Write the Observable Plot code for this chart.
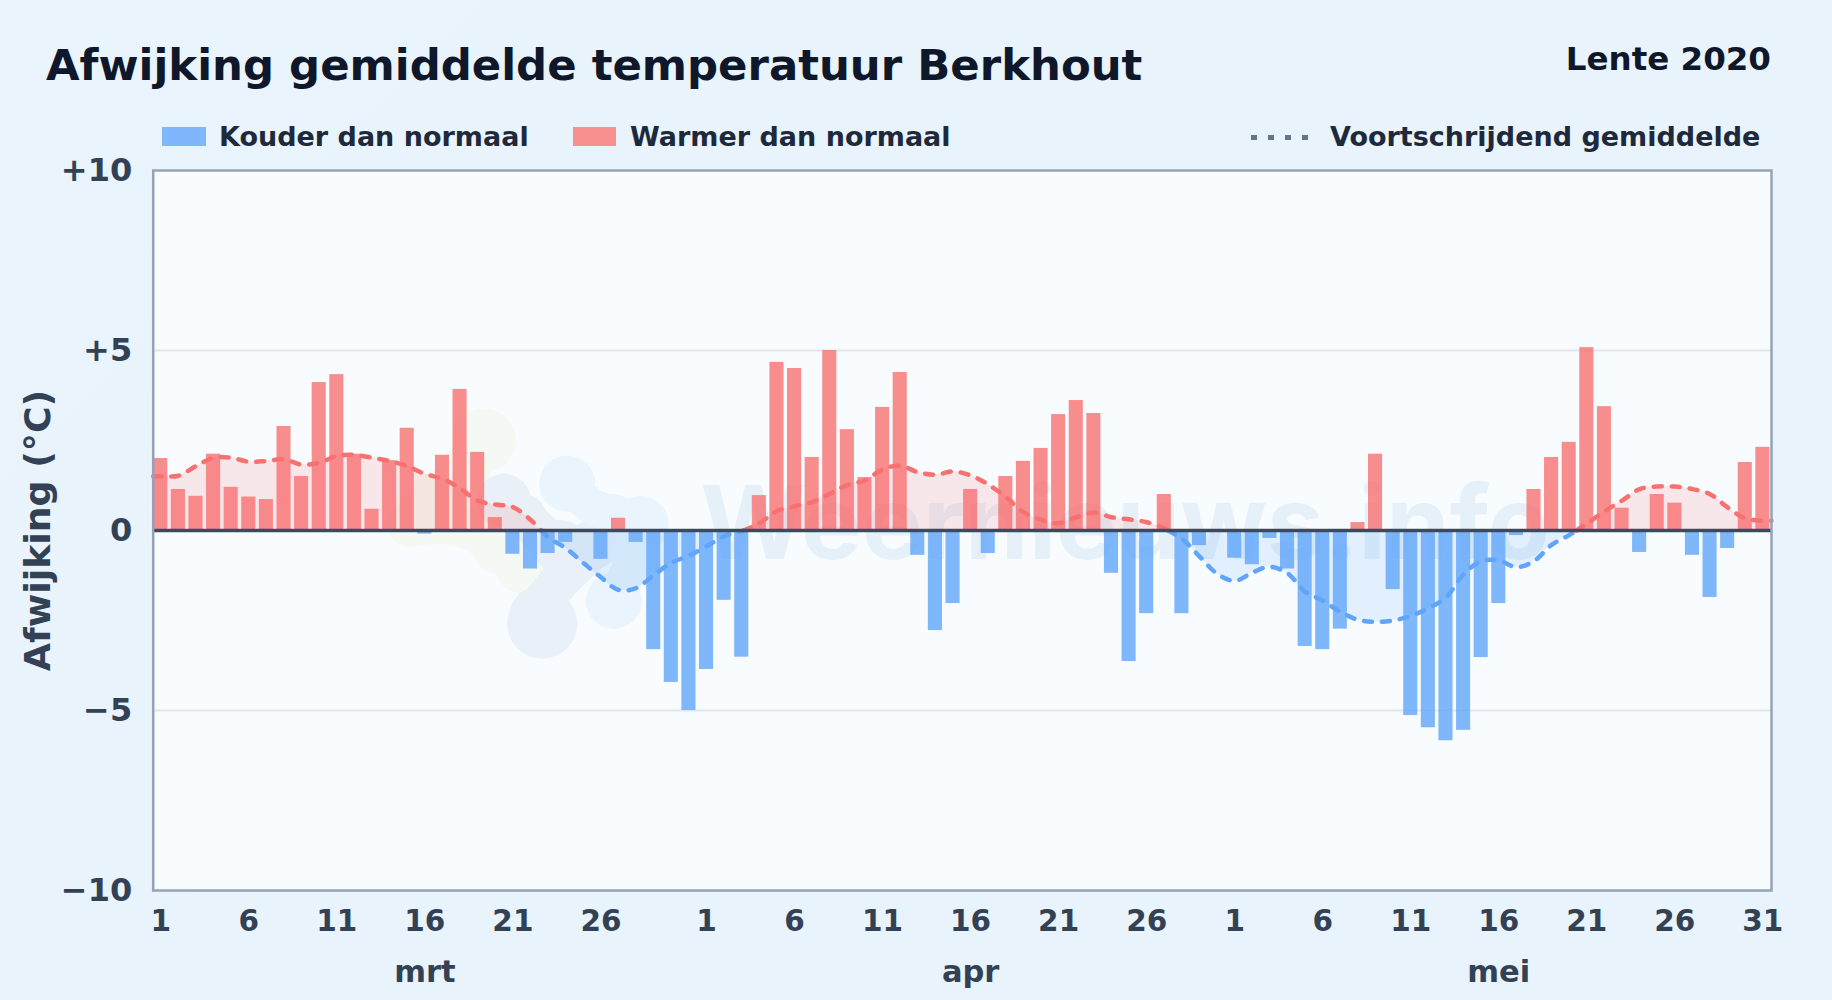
<!DOCTYPE html>
<html lang="nl">
<head>
<meta charset="utf-8">
<script src="https://cdn.jsdelivr.net/npm/d3@7"></script>
<script src="https://cdn.jsdelivr.net/npm/@observablehq/plot@0.6"></script>
<style>
html,body{margin:0;padding:0;width:1832px;height:1000px;overflow:hidden;background:#e9f3fc;font-family:"DejaVu Sans",sans-serif;font-weight:700}
#page{position:relative;width:1832px;height:1000px;background:linear-gradient(135deg,#eaf4fc 0%,#e8f3fc 40%,#e9f3fb 100%)}
#title{position:absolute;left:46px;top:39px;font-size:43.4px;line-height:52px;color:#0f172a;white-space:nowrap}
#season{position:absolute;right:61px;top:39px;font-size:32.5px;line-height:40px;color:#0f172a;white-space:nowrap}
.lg{position:absolute;top:118px;font-size:27px;line-height:38px;color:#1e293b;white-space:nowrap}
.sw{position:absolute;top:127px;height:19px}
#dots{position:absolute;left:1251px;top:135px;width:58px;height:5px;background:repeating-linear-gradient(90deg,#64748b 0 6px,transparent 6px 17px)}
#chart{position:absolute;left:0;top:150px}
#chart svg text{font-weight:700}
</style>
</head>
<body>
<div id="page">
  <div id="title">Afwijking gemiddelde temperatuur Berkhout</div>
  <div id="season">Lente 2020</div>
  <div class="sw" style="left:162px;width:44px;background:#80b6fb"></div>
  <div class="lg" style="left:219px">Kouder dan normaal</div>
  <div class="sw" style="left:573px;width:43px;background:#f89090"></div>
  <div class="lg" style="left:630px">Warmer dan normaal</div>
  <div id="dots"></div>
  <div class="lg" style="left:1330px">Voortschrijdend gemiddelde</div>
  <div id="chart"></div>
</div>
<script>
// Daily deviation from normal (°C), 1 March – 31 May 2020
const marchDev = [2.0,1.14,0.95,2.12,1.2,0.93,0.86,2.89,1.5,4.11,4.33,2.12,0.59,1.94,2.84,-0.1,2.09,3.92,2.17,0.36,-0.66,-1.07,-0.64,-0.33,0,-0.8,0.34,-0.33,-3.31,-4.22,-5.0];
const aprilDev = [-3.86,-1.94,-3.52,0.97,4.67,4.5,2.03,5.0,2.8,1.47,3.42,4.39,-0.69,-2.78,-2.03,1.14,-0.64,1.5,1.92,2.28,3.22,3.61,3.25,-1.19,-3.64,-2.31,1.0,-2.31,-0.42,0];
const mayDev = [-0.77,-0.95,-0.22,-1.07,-3.22,-3.31,-2.74,0.22,2.12,-1.64,-5.14,-5.48,-5.84,-5.55,-3.53,-2.03,-0.14,1.14,2.03,2.45,5.08,3.44,0.62,-0.61,1.0,0.76,-0.69,-1.86,-0.5,1.89,2.31];

// Moving average
const marchAvg = [1.51,1.52,1.79,2.02,2.02,1.91,1.93,1.98,1.83,1.88,2.07,2.1,2.02,1.93,1.79,1.57,1.44,1.17,0.83,0.72,0.65,0.3,-0.19,-0.49,-0.9,-1.3,-1.65,-1.6,-1.24,-0.9,-0.7];
const aprilAvg = [-0.44,-0.16,-0.02,0.2,0.54,0.67,0.79,1.02,1.27,1.39,1.7,1.8,1.62,1.55,1.64,1.53,1.28,0.93,0.51,0.3,0.2,0.37,0.5,0.37,0.31,0.23,0.06,-0.23,-0.72,-1.2];
const mayAvg = [-1.4,-1.17,-1.01,-1.19,-1.7,-1.95,-2.26,-2.48,-2.54,-2.5,-2.37,-2.16,-1.86,-1.22,-0.85,-0.83,-1.02,-0.85,-0.4,-0.13,0.19,0.53,0.83,1.15,1.22,1.22,1.15,1.01,0.64,0.34,0.27];

const tickIndex = [0,5,10,15,20,25,31,36,41,46,51,56,61,66,71,76,81,86,91];
const tickLabels = ["1","6","11","16","21","26","1","6","11","16","21","26","1","6","11","16","21","26","31"];
const monthIndex = [15,46,76];
const monthLabels = ["mrt","apr","mei"];
const yTicks = [10,5,0,-5,-10];
const yLabels = ["+10","+5","0","−5","−10"];

// Watermark logo lobes: series position, deviation position, radius
const logoGreen = [[18.35,2.5,32],[17.4,1.76,25],[15.7,0.83,30],[14.18,0.18,23],[16.08,0.18,18],[17.97,-0.09,20],[19.11,-0.56,23],[20.62,-0.93,30]];
const logoGrey = [[19.49,0.83,27],[20.62,0.37,23],[22.71,-0.46,27],[24.6,-0.37,25],[22.52,-1.48,20],[21.38,-2.32,27],[21.67,-2.59,35]];
const logoLight = [[23.09,1.3,28],[24.6,0.65,17],[25.74,0.46,20],[27.25,0.18,28],[26.87,-0.74,23],[25.74,-1.95,28]];

const dev = [...marchDev,...aprilDev,...mayDev];
const avg = [...marchAvg,...aprilAvg,...mayAvg];
const bars = dev.map((v,i)=>({i,v})).filter(d=>d.v!==0);

// curve points, running to both frame edges, with a node where the curve crosses zero
const XMIN=-0.43, XMAX=91.49;
const nodes = [{i:XMIN,v:avg[0]},...avg.map((v,i)=>({i,v})),{i:XMAX,v:avg[avg.length-1]}];
const curvePts = [];
nodes.forEach((p,k)=>{
  if(k>0){const q=nodes[k-1]; if(q.v*p.v<0){curvePts.push({i:q.i+(p.i-q.i)*(q.v/(q.v-p.v)),v:0});}}
  curvePts.push(p);
});
const pos = curvePts.map(d=>({i:d.i,y:d.v>=0?d.v:NaN,a:Math.max(d.v,0)}));
const neg = curvePts.map(d=>({i:d.i,y:d.v<=0?d.v:NaN,a:Math.min(d.v,0)}));

const RED="#f87171", BLUE="#60a5fa", CURVE="catmull-rom";
// a lobe chain: thick rounded line through the centres plus a dot per lobe, merged into one soft shape
const blob=(rows,fill,w)=>[
  Plot.line(rows,{x:d=>d[0],y:d=>d[1],stroke:fill,strokeWidth:w,strokeLinecap:"round",strokeLinejoin:"round",curve:"catmull-rom"}),
  Plot.dot(rows,{x:d=>d[0],y:d=>d[1],r:d=>d[2],fill,stroke:null})
];

const plot = Plot.plot({
  width:1832,height:850,
  marginLeft:152.7,marginRight:61,marginTop:20,marginBottom:110,
  style:{background:"transparent",fontFamily:'"DejaVu Sans",sans-serif',fontWeight:700,overflow:"visible"},
  x:{type:"linear",domain:[XMIN,XMAX],axis:null},
  y:{domain:[-10,10],axis:null},
  r:{type:"identity"},
  marks:[
    Plot.frame({fill:"#f8fcff",stroke:null}),
    blob(logoGreen,"#f4f9f3",40),
    blob(logoGrey,"#e9f0f8",40),
    blob(logoLight,"#e9f4fd",36),
    Plot.text(["Weernieuws.info"],{frameAnchor:"middle",dx:163,dy:-4,fontFamily:"Inter,Roboto,sans-serif",fontSize:102,fontWeight:500,fill:"#1e6bb0",fillOpacity:0.08}),
    Plot.ruleY([5,-5],{stroke:"#e0e7ec",strokeWidth:2}),
    Plot.areaY(pos,{x:"i",y:"a",y1:0,y2:"a",fill:RED,fillOpacity:0.15,curve:CURVE}),
    Plot.areaY(neg,{x:"i",y:"a",y1:0,y2:"a",fill:BLUE,fillOpacity:0.15,curve:CURVE}),
    Plot.line(pos,{x:"i",y:"y",stroke:RED,strokeWidth:4.5,strokeDasharray:"8 10",strokeLinecap:"round",curve:CURVE}),
    Plot.line(neg,{x:"i",y:"y",stroke:BLUE,strokeWidth:4.5,strokeDasharray:"8 10",strokeLinecap:"round",curve:CURVE}),
    Plot.rect(bars,{x1:d=>d.i-0.4,x2:d=>d.i+0.4,y1:0,y2:"v",fill:d=>d.v>=0?RED:BLUE,fillOpacity:0.8}),
    Plot.ruleY([0],{stroke:"#3d4a5e",strokeWidth:3.5}),
    Plot.frame({stroke:"#94a3b8",strokeWidth:2.5}),
    Plot.axisY(yTicks,{tickSize:0,tickPadding:21,fontSize:32,fontWeight:700,fill:"#334155",label:null,tickFormat:d=>yLabels[yTicks.indexOf(d)]}),
    Plot.axisX(tickIndex,{tickSize:0,tickPadding:19.5,fontSize:29.5,fontWeight:700,fill:"#334155",label:null,tickFormat:d=>tickLabels[tickIndex.indexOf(d)]}),
    Plot.axisX(monthIndex,{tickSize:0,tickPadding:70,fontSize:30.5,fontWeight:700,fill:"#334155",label:null,tickFormat:d=>monthLabels[monthIndex.indexOf(d)]}),
    Plot.text(["Afwijking (°C)"],{frameAnchor:"left",dx:-114.7,rotate:-90,textAnchor:"middle",fontSize:36.3,fontWeight:700,fill:"#334155"})
  ]
});
document.getElementById("chart").appendChild(plot);
</script>
</body>
</html>
